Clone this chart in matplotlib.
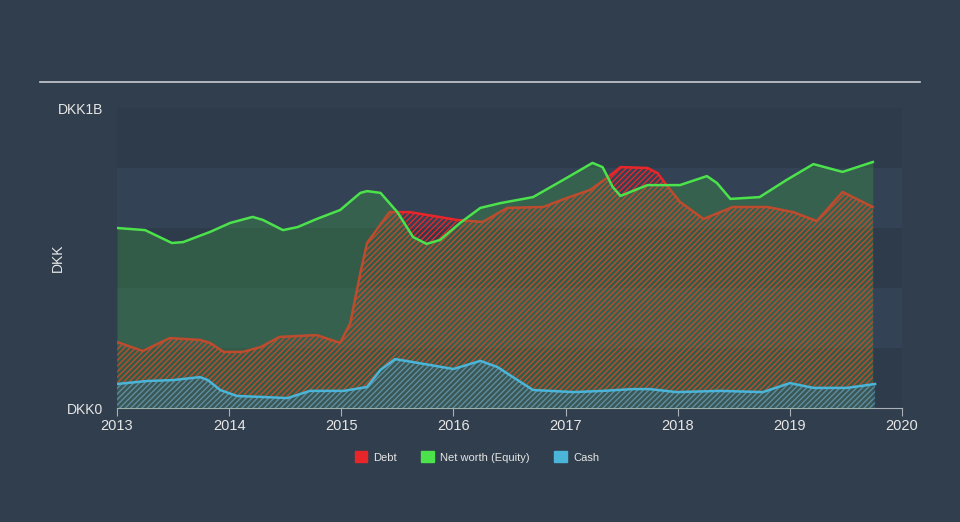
import matplotlib
matplotlib.use("Agg")
import matplotlib.pyplot as plt
from matplotlib.patches import Patch

plt.rcParams['font.family'] = ['Liberation Sans', 'DejaVu Sans']
plt.rcParams['hatch.linewidth'] = 1.0

# values in DKK millions, x in decimal years
equity_x = [2013.00, 2013.25, 2013.49, 2013.59, 2013.83, 2014.01, 2014.21, 2014.30, 2014.48,
            2014.61, 2014.78, 2014.99, 2015.17, 2015.23, 2015.35, 2015.50, 2015.64, 2015.76,
            2015.88, 2016.06, 2016.24, 2016.42, 2016.71, 2017.01, 2017.24, 2017.33, 2017.42,
            2017.49, 2017.73, 2018.02, 2018.26, 2018.35, 2018.47, 2018.73, 2018.97, 2019.21,
            2019.47, 2019.74]
equity = [600, 593, 550, 553, 587, 617, 637, 627, 593,
          603, 630, 660, 717, 723, 717, 653, 570, 547,
          560, 617, 667, 683, 703, 767, 817, 803, 737,
          707, 743, 743, 773, 750, 697, 703, 760, 813,
          787, 820]

debt_x = [2013.00, 2013.23, 2013.47, 2013.74, 2013.83, 2013.95, 2014.12, 2014.28, 2014.45,
          2014.78, 2014.99, 2015.08, 2015.17, 2015.23, 2015.43, 2015.61, 2016.03, 2016.26,
          2016.48, 2016.80, 2017.01, 2017.22, 2017.37, 2017.49, 2017.73, 2017.82, 2017.90,
          2018.02, 2018.23, 2018.49, 2018.80, 2019.03, 2019.24, 2019.47, 2019.74]
debt = [220, 190, 233, 227, 217, 187, 187, 203, 237,
        243, 217, 283, 450, 550, 653, 653, 627, 620,
        667, 670, 700, 727, 767, 803, 800, 783, 743,
        687, 630, 670, 670, 653, 623, 720, 670]

cash_x = [2013.00, 2013.27, 2013.50, 2013.74, 2013.81, 2013.92, 2014.07, 2014.28, 2014.52,
          2014.72, 2015.02, 2015.23, 2015.35, 2015.48, 2015.64, 2016.00, 2016.24, 2016.39,
          2016.53, 2016.71, 2017.07, 2017.33, 2017.60, 2017.75, 2017.99, 2018.38, 2018.76,
          2019.00, 2019.21, 2019.51, 2019.76]
cash = [80, 90, 93, 103, 93, 60, 40, 37, 33,
        57, 57, 70, 127, 163, 153, 130, 157, 137,
        103, 60, 53, 57, 63, 63, 53, 57, 53,
        83, 67, 67, 80]

years = [2013, 2014, 2015, 2016, 2017, 2018, 2019, 2020]

bg = '#313e4d'
red = '#e8262a'
green = '#4ce24c'
blue = '#4ab5d8'

fig = plt.figure(figsize=(9.6, 5.22), dpi=100, facecolor=bg)
ax = fig.add_axes([117/960, 114/522, 785/960, 300/522])
ax.set_facecolor('#334254')

# alternating bands
for lo in [0, 400, 800]:
    ax.axhspan(lo, lo + 200, color='#2e3b4b', zorder=0, lw=0)

# debt: red hatch
ax.fill_between(debt_x, 0, debt, facecolor='none', edgecolor=red, hatch='//////',
                linewidth=0, zorder=1)
ax.plot(debt_x, debt, color=red, lw=1.8, zorder=2)

# equity: translucent green
ax.fill_between(equity_x, 0, equity, color='#3ec03e', alpha=0.25, linewidth=0, zorder=3)

# cash: blue hatch
ax.fill_between(cash_x, 0, cash, facecolor='#3d5560', edgecolor=blue, hatch='//////',
                linewidth=0, alpha=0.6, zorder=4)
ax.plot(cash_x, cash, color=blue, lw=1.8, zorder=5)
ax.plot(equity_x, equity, color=green, lw=1.8, zorder=6)

ax.set_xlim(2013, 2020)
ax.set_ylim(0, 1000)
ax.set_xticks(years)
ax.set_xticklabels([str(y) for y in years], color='#e6e6e6', fontsize=10.5)
ax.set_yticks([0, 1000])
ax.set_yticklabels(['DKK0', 'DKK1B'], color='#e6e6e6', fontsize=10)
ax.tick_params(axis='y', length=0, pad=10)
ax.tick_params(axis='x', length=6, color='#a8b0ba', pad=2)
for s in ['top', 'right', 'left']:
    ax.spines[s].set_visible(False)
ax.spines['bottom'].set_color('#a8b0ba')
ax.set_ylabel('DKK', color='#e6e6e6', fontsize=10)
ax.yaxis.set_label_coords(-52/785, 0.5)

# top separator line
fig.add_artist(plt.Line2D([40/960, 920/960], [1 - 82/522, 1 - 82/522],
                          color='#c8ccd0', lw=1.2))

handles = [Patch(color=red, label='Debt'),
           Patch(color=green, label='Net worth (Equity)'),
           Patch(color=blue, label='Cash')]
leg = fig.legend(handles=handles, loc='center', bbox_to_anchor=(477/960, 1 - 457/522),
                 ncol=3, frameon=False, fontsize=8, handlelength=1.1, handleheight=1.1,
                 columnspacing=2.2, handletextpad=0.6)
for t in leg.get_texts():
    t.set_color('#e6e6e6')

fig.savefig('out.png', dpi=100, facecolor=bg)
